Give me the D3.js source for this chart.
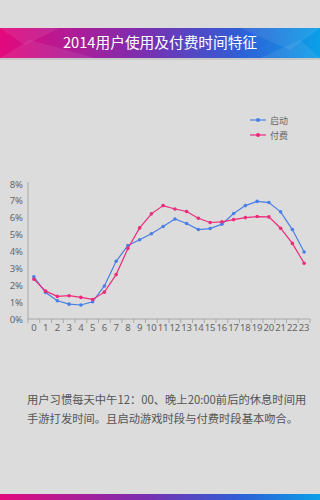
<!DOCTYPE html>
<html>
<head>
<meta charset="utf-8">
<script src="https://d3js.org/d3.v7.min.js"></script>
<style>
  body { margin: 0; background: #dcdcdc; }
  svg { display: block; font-family: "Noto Sans CJK SC", "Noto Sans", sans-serif; }
  .axis path, .axis line { stroke: #a8a8a8; }
  .axis text { fill: #666; font-size: 9.5px; font-family: "Noto Sans", sans-serif; }
</style>
</head>
<body>
<div id="chart"></div>
<script>
// hours and the two series (percent)
var hours = d3.range(0, 24).map(String);
var startSeries = [2.50, 1.57, 1.08, 0.88, 0.83, 1.02, 1.96, 3.42, 4.36, 4.70, 5.05, 5.48,
                   5.93, 5.66, 5.30, 5.36, 5.62, 6.25, 6.72, 6.97, 6.90, 6.35, 5.30, 3.97];
var payISeries = [2.36, 1.65, 1.34, 1.38, 1.28, 1.16, 1.59, 2.63, 4.18, 5.40, 6.23, 6.72,
                  6.52, 6.37, 5.97, 5.72, 5.76, 5.89, 6.01, 6.07, 6.05, 5.38, 4.48, 3.30];
var yTicks = [0, 1, 2, 3, 4, 5, 6, 7, 8];
var seriesNames = ["启动", "付费"];
var colors = ["#4a7fe6", "#ee2a7b"];
var title = "2014用户使用及付费时间特征";
var note = ["用户习惯每天中午12：00、晚上20:00前后的休息时间用",
            "手游打发时间。且启动游戏时段与付费时段基本吻合。"];

var W = 320, H = 500;
var svg = d3.select("#chart").append("svg").attr("width", W).attr("height", H);

var defs = svg.append("defs");
var grad = defs.append("linearGradient").attr("id", "band").attr("x1", "0").attr("x2", "1");
grad.append("stop").attr("offset", "0").attr("stop-color", "#e3097c");
grad.append("stop").attr("offset", "0.45").attr("stop-color", "#7a2fb0");
grad.append("stop").attr("offset", "0.75").attr("stop-color", "#2f5fd6");
grad.append("stop").attr("offset", "1").attr("stop-color", "#0aa0e8");

svg.append("rect").attr("width", W).attr("height", H).attr("fill", "#dcdcdc");

// title banner
svg.append("rect").attr("x", 0).attr("y", 58).attr("width", W).attr("height", 2)
  .attr("fill", "#c8c8c8");
svg.append("rect").attr("x", 0).attr("y", 28).attr("width", W).attr("height", 30)
  .attr("fill", "url(#band)");
// a few faint facets on the banner
var facets = [
  [[0, 28], [60, 28], [25, 45]],
  [[0, 58], [30, 40], [95, 58]],
  [[240, 28], [320, 28], [290, 50]],
  [[260, 58], [300, 40], [320, 58]]
];
svg.selectAll("polygon.facet").data(facets).enter().append("polygon")
  .attr("class", "facet")
  .attr("points", function(d) { return d.map(function(p) { return p.join(","); }).join(" "); })
  .attr("fill", "#ffffff").attr("opacity", 0.08);
svg.append("text").attr("x", 160).attr("y", 48).attr("text-anchor", "middle")
  .attr("fill", "#fff").attr("font-size", 14.7).text(title);

// bottom strip
svg.append("rect").attr("x", 0).attr("y", 494).attr("width", W).attr("height", 6)
  .attr("fill", "url(#band)");

// scales
var x = d3.scaleBand().domain(hours).range([28, 310]);
var y = d3.scaleLinear().domain([0, 8]).range([319, 184]);
var cx = function(d, i) { return x(hours[i]) + x.bandwidth() / 2; };

// y axis
var yAxis = svg.append("g").attr("class", "axis").attr("transform", "translate(28,0)")
  .call(d3.axisLeft(y).tickValues(yTicks).tickSize(0).tickPadding(5)
    .tickFormat(function(d) { return d + "%"; }));
yAxis.select(".domain").attr("d", "M0,182V319");

// x axis
var xAxis = svg.append("g").attr("class", "axis").attr("transform", "translate(0,319)")
  .call(d3.axisBottom(x).tickSize(0).tickPadding(5));
xAxis.select(".domain").attr("d", "M28,0H310");
xAxis.selectAll("line.sep").data(hours.concat(["end"])).enter().append("line")
  .attr("class", "sep")
  .attr("x1", function(d, i) { return 28 + i * x.step(); })
  .attr("x2", function(d, i) { return 28 + i * x.step(); })
  .attr("y1", 0).attr("y2", 4);

// lines
var line = d3.line().x(cx).y(function(d) { return y(d); });
[startSeries, payISeries].forEach(function(s, k) {
  svg.append("path").datum(s).attr("d", line)
    .attr("fill", "none").attr("stroke", colors[k]).attr("stroke-width", 1.2);
  svg.selectAll("circle.s" + k).data(s).enter().append("circle")
    .attr("class", "s" + k)
    .attr("cx", cx).attr("cy", function(d) { return y(d); })
    .attr("r", 1.8).attr("fill", colors[k]);
});

// legend
var leg = svg.append("g").attr("transform", "translate(250,117)");
seriesNames.forEach(function(n, k) {
  var g = leg.append("g").attr("transform", "translate(0," + k * 15 + ")");
  g.append("line").attr("x1", 0).attr("x2", 16).attr("y1", 3).attr("y2", 3)
    .attr("stroke", colors[k]).attr("stroke-width", 1.2);
  g.append("circle").attr("cx", 8).attr("cy", 3).attr("r", 2).attr("fill", colors[k]);
  g.append("text").attr("x", 20).attr("y", 6.5).attr("font-size", 9).attr("fill", "#666").text(n);
});

// note
svg.selectAll("text.note").data(note).enter().append("text")
  .attr("class", "note")
  .attr("x", 27).attr("y", function(d, i) { return 404 + i * 19; })
  .attr("font-size", 11.3).attr("fill", "#555").text(function(d) { return d; });
</script>
</body>
</html>
